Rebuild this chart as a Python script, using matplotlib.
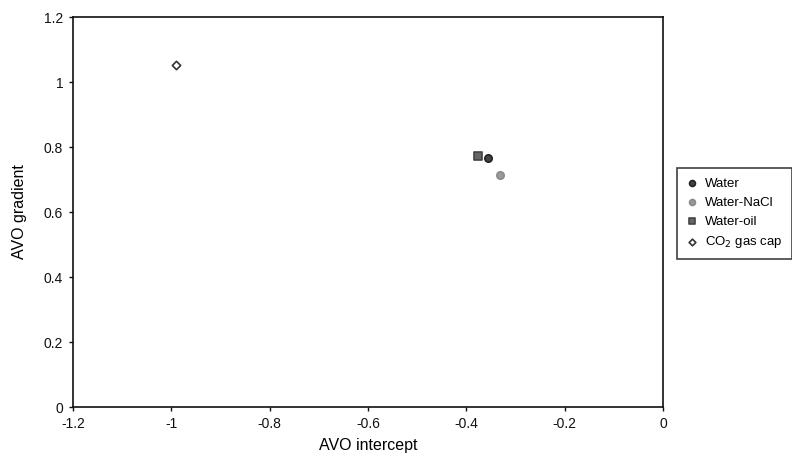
import matplotlib
matplotlib.use("Agg")
import matplotlib.pyplot as plt

plt.rcParams['font.family'] = ['Liberation Sans', 'DejaVu Sans']

# datos
series = ["Water", "Water-NaCl", "Water-oil", "CO$_2$ gas cap"]
intercept = [-0.356, -0.332, -0.376, -0.99]
gradient = [0.766, 0.714, 0.772, 1.053]

markers = ["o", "o", "s", "D"]
faces = ["#444444", "#9a9a9a", "#666666", "white"]
edges = ["#222222", "#8a8a8a", "#444444", "#333333"]
sizes = [28, 28, 26, 18]

fig = plt.figure(figsize=(7.92, 4.61), dpi=100)
ax = fig.add_axes([0.092, 0.117, 0.745, 0.846])

for i in range(len(series)):
    ax.scatter(intercept[i], gradient[i], marker=markers[i], s=sizes[i],
               facecolor=faces[i], edgecolor=edges[i], linewidths=1.2,
               label=series[i], zorder=3)

ax.set_xlim(-1.2, 0)
ax.set_ylim(0, 1.2)
ax.set_xticks([-1.2, -1, -0.8, -0.6, -0.4, -0.2, 0])
ax.set_xticklabels(["-1.2", "-1", "-0.8", "-0.6", "-0.4", "-0.2", "0"])
ax.set_yticks([0, 0.2, 0.4, 0.6, 0.8, 1, 1.2])
ax.set_yticklabels(["0", "0.2", "0.4", "0.6", "0.8", "1", "1.2"])
ax.tick_params(direction="out", length=3, width=1, labelsize=10, colors="#111111", pad=4)
for s in ax.spines.values():
    s.set_linewidth(1.2)
    s.set_color("#111111")

ax.set_xlabel("AVO intercept", fontsize=11.5, labelpad=5)
ax.set_ylabel("AVO gradient", fontsize=11.5, labelpad=12)

leg = ax.legend(loc="upper left", bbox_to_anchor=(1.024, 0.612), fontsize=9.5,
                frameon=True, fancybox=False, edgecolor="#111111",
                handletextpad=0.5, borderpad=0.7, labelspacing=0.5,
                handlelength=0.9, markerscale=0.8, borderaxespad=0)
leg.get_frame().set_linewidth(1.2)

plt.savefig("out.png", dpi=100)
